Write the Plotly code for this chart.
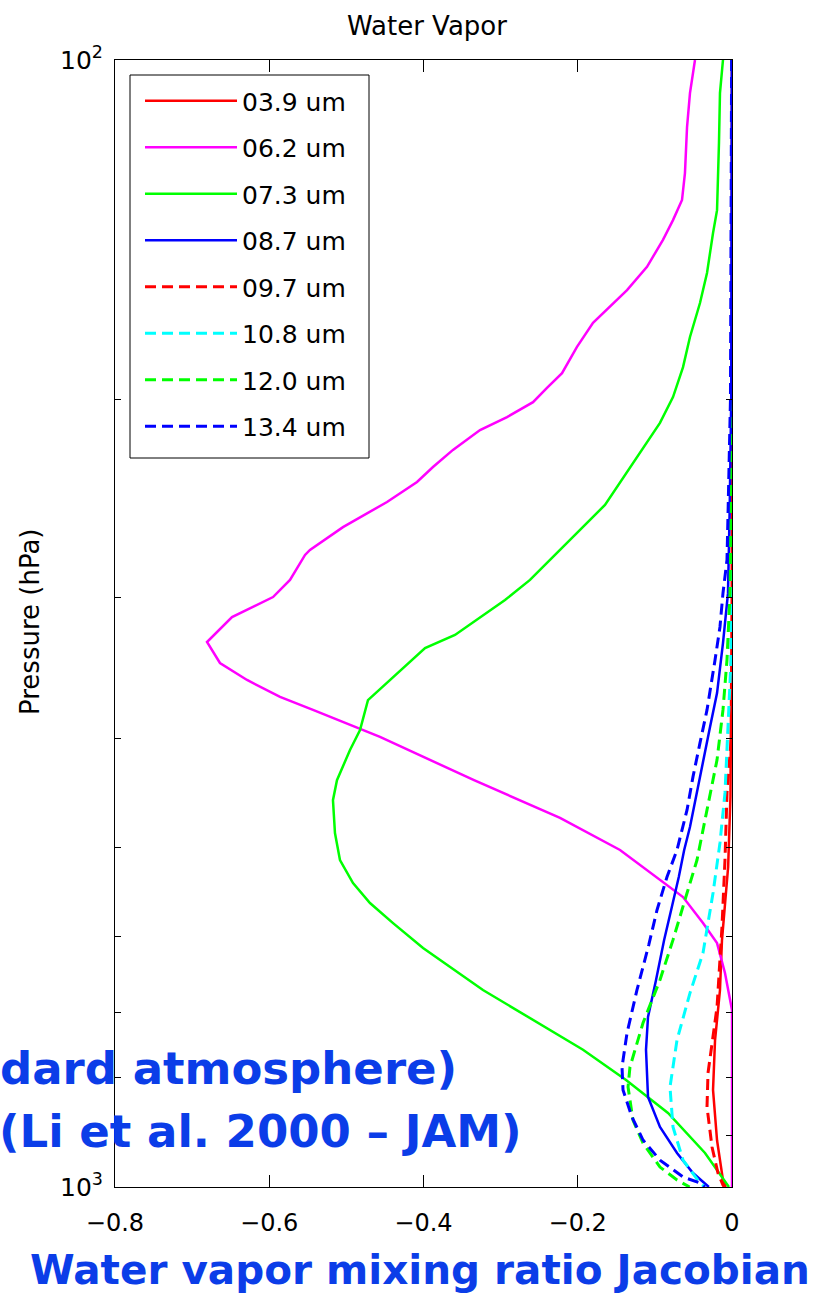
import plotly.graph_objects as go

# Water vapor mixing ratio Jacobians for eight infrared channels.
# Each channel: pressure levels (hPa) and Jacobian values.
p_039 = [100, 300, 450, 520, 604, 669, 741, 820, 909, 986, 1000]
j_039 = [0.0, -0.0003, -0.002, -0.005, -0.013, -0.0156, -0.022, -0.0246, -0.0194, -0.0117, -0.008]

p_062 = [100, 107, 114.7, 126, 133.1, 138.7, 144.4, 152.6, 160, 165.6, 171.1, 179.7, 189.6,
         195.4, 201.2, 207.4, 213, 221.8, 229.7, 236.8, 246.7, 259.7, 272.1, 274.9, 289.3,
         299.6, 312.1, 328.4, 342.8, 354.9, 367.4, 377.3, 391.4, 398.7, 435.5, 470.5, 502.3,
         534.1, 553, 583.2, 607.5, 645.8, 696.6, 800, 1000]
j_062 = [-0.048, -0.0545, -0.0583, -0.061, -0.0648, -0.0765, -0.0895, -0.1102, -0.1361, -0.1582,
         -0.1802, -0.201, -0.2204, -0.2399, -0.258, -0.2917, -0.3267, -0.3618, -0.3877, -0.4084,
         -0.4473, -0.5044, -0.5472, -0.5536, -0.5731, -0.5951, -0.6483, -0.6807, -0.6639, -0.6288,
         -0.586, -0.5433, -0.4862, -0.4564, -0.3345, -0.223, -0.1452, -0.0934, -0.0635, -0.0376,
         -0.0194, -0.0091, 0.0, 0.0, 0.0]

p_073 = [100, 107, 118.5, 135.9, 142.4, 154.5, 164.3, 176.1, 187.3, 199.1, 209.9, 223.2, 248.2,
         272.1, 289.3, 301.4, 323.7, 332.5, 354.9, 369.8, 393.1, 409.5, 435.5, 453.7, 485.2,
         512.7, 537.4, 559.8, 583.2, 613.7, 668.6, 710.8, 755.5, 803.5, 859.6, 932.8, 991.9, 1000]
j_073 = [-0.0117, -0.0156, -0.0169, -0.0194, -0.0246, -0.0324, -0.0415, -0.0545, -0.0635, -0.0765,
         -0.0934, -0.1193, -0.1647, -0.223, -0.2619, -0.2943, -0.3592, -0.398, -0.4434, -0.472,
         -0.4823, -0.4953, -0.5122, -0.5174, -0.5148, -0.5083, -0.4914, -0.4694, -0.4395, -0.4006,
         -0.3229, -0.258, -0.1932, -0.1374, -0.083, -0.035, -0.0078, -0.004]

p_087 = [100, 200, 250, 297.2, 329.1, 364.5, 390.7, 432.6, 479.2, 502.3, 530.8, 564.4, 603.6, 655.1,
         706.6, 755.5, 832.1, 884.7, 932.8, 971.9, 995.9, 1000]
j_087 = [-0.0003, -0.001, -0.003, -0.0052, -0.0117, -0.0194, -0.0285, -0.0415, -0.0545, -0.062,
         -0.0690, -0.0780, -0.0880, -0.0985, -0.1089, -0.1115, -0.1089, -0.0934, -0.0713, -0.0506,
         -0.0324, -0.03]

p_097 = [100, 400, 447, 512.7, 587.9, 692.3, 792.3, 849.2, 921.5, 971.9, 995.9, 1000]
j_097 = [0.0, -0.001, -0.0065, -0.0091, -0.013, -0.0194, -0.0311, -0.0324, -0.0259, -0.0182, -0.0117, -0.01]

p_108 = [100, 300, 340.7, 390.7, 447, 495.1, 548.5, 619.9, 672.9, 740.5, 815.3, 884.7, 946.5, 991.9, 1000]
j_108 = [0.0, -0.0005, -0.0013, -0.0052, -0.0091, -0.0156, -0.0246, -0.0376, -0.0545, -0.0713,
         -0.0804, -0.0765, -0.0635, -0.0415, -0.035]

p_120 = [100, 200, 250, 297.2, 340.7, 377.3, 417.8, 462.8, 512.7, 548.5, 603.6, 655.1, 715.3,
         782.6, 815.3, 872.1, 914.1, 960.1, 985.8, 1000]
j_120 = [0.0, -0.0005, -0.001, -0.0026, -0.0065, -0.0117, -0.0194, -0.0324, -0.0454, -0.0583,
         -0.0765, -0.0934, -0.1154, -0.1323, -0.1348, -0.1284, -0.1154, -0.0934, -0.0713, -0.055]

p_134 = [100, 150, 200, 250, 277.7, 297.2, 318.5, 340.7, 377.3, 403.6, 432.6, 462.8, 502.3, 530.8,
         567.8, 610, 668.6, 730, 782.6, 820.2, 866.7, 908.5, 946.5, 979.7, 991.9, 1000]
j_134 = [-0.0005, -0.001, -0.002, -0.005, -0.0065, -0.0117, -0.0156, -0.022, -0.0324, -0.0415,
         -0.0506, -0.0583, -0.0713, -0.0843, -0.0972, -0.108, -0.1232, -0.1361, -0.1426, -0.1413,
         -0.1297, -0.1154, -0.0934, -0.0635, -0.0415, -0.035]

channels = ["03.9 um", "06.2 um", "07.3 um", "08.7 um", "09.7 um", "10.8 um", "12.0 um", "13.4 um"]
pressures = [p_039, p_062, p_073, p_087, p_097, p_108, p_120, p_134]
jacobians = [j_039, j_062, j_073, j_087, j_097, j_108, j_120, j_134]

colors = ["#ff0000", "#ff00ff", "#00ff00", "#0000ff", "#ff0000", "#00ffff", "#00ff00", "#0000ff"]
dashes = ["solid", "solid", "solid", "solid", "11px,6px", "11px,6px", "11px,6px", "11px,6px"]
widths = [2.5, 2.5, 2.5, 2.5, 3, 3, 3, 3]

# labelled decades and unlabelled intermediate pressure ticks
major_p = [100, 1000]
major_text = ["10<sup>2</sup>", "10<sup>3</sup>"]
minor_p = [200, 300, 400, 500, 600, 700, 800, 900]

FONT = "DejaVu Sans"
BLUE_TEXT = "#0b3de8"

# plot area in pixels
W, H = 824, 1296
L, R, T, B = 115, 92, 60, 109
PW, PH = W - L - R, H - T - B


def px(xp):
    return (xp - L) / PW


def py(yp):
    return (H - B - yp) / PH


fig = go.Figure()
for name, p, j, c, d, w in zip(channels, pressures, jacobians, colors, dashes, widths):
    fig.add_trace(go.Scatter(
        x=j, y=p, mode="lines", name=name, legendgroup=name,
        line=dict(color=c, width=w, dash=d),
    ))

fig.update_layout(
    width=W, height=H,
    margin=dict(l=L, r=R, t=T, b=B),
    paper_bgcolor="white", plot_bgcolor="white",
    font=dict(family=FONT, color="black"),
    showlegend=True,
    legend=dict(
        x=px(140), y=py(78), xanchor="left", yanchor="top",
        bgcolor="rgba(0,0,0,0)", borderwidth=0,
        font=dict(family=FONT, size=25, color="black"),
        itemwidth=92, tracegroupgap=11,
    ),
    xaxis=dict(
        range=[-0.8, 0], tick0=-0.8, dtick=0.2,
        showgrid=False, zeroline=False,
        showline=True, linecolor="black", linewidth=1, mirror="ticks",
        ticks="inside", ticklen=12, tickcolor="black", tickwidth=1,
        tickfont=dict(family=FONT, size=24, color="black"),
        ticklabelstandoff=14,
    ),
    yaxis=dict(
        type="log", range=[3, 2],
        tickmode="array", tickvals=major_p, ticktext=major_text,
        minor=dict(tickmode="array", tickvals=minor_p, ticks="inside", ticklen=6,
                   tickcolor="black", tickwidth=1, showgrid=False),
        showgrid=False, zeroline=False,
        showline=True, linecolor="black", linewidth=1, mirror="ticks",
        ticks="inside", ticklen=6, tickcolor="black", tickwidth=1,
        tickfont=dict(family=FONT, size=25, color="black"),
        ticklabelstandoff=6,
    ),
    shapes=[
        # legend frame
        dict(type="rect", xref="paper", yref="paper",
             x0=px(130), x1=px(369), y0=py(458), y1=py(75),
             line=dict(color="black", width=1), fillcolor="white", layer="above"),
    ],
)

annotations = [
    dict(text="Water Vapor", x=px(427), y=py(26), xanchor="center", yanchor="middle",
         font=dict(family=FONT, size=26, color="black")),
    dict(text="Pressure (hPa)", x=px(30), y=py(622), xanchor="center", yanchor="middle",
         textangle=-90, font=dict(family=FONT, size=26, color="black")),
    dict(text="<b>dard atmosphere)</b>", x=px(-2), y=py(1068), xanchor="left", yanchor="middle",
         font=dict(family=FONT, size=45, color=BLUE_TEXT)),
    dict(text="<b>(Li et al. 2000 – JAM)</b>", x=px(-3), y=py(1131), xanchor="left", yanchor="middle",
         font=dict(family=FONT, size=45, color=BLUE_TEXT)),
    dict(text="<b>Water vapor mixing ratio Jacobian</b>", x=px(420), y=py(1270),
         xanchor="center", yanchor="middle",
         font=dict(family=FONT, size=40.5, color=BLUE_TEXT)),
]
for a in annotations:
    fig.add_annotation(xref="paper", yref="paper", showarrow=False, **a)

fig.write_html("out.html")
